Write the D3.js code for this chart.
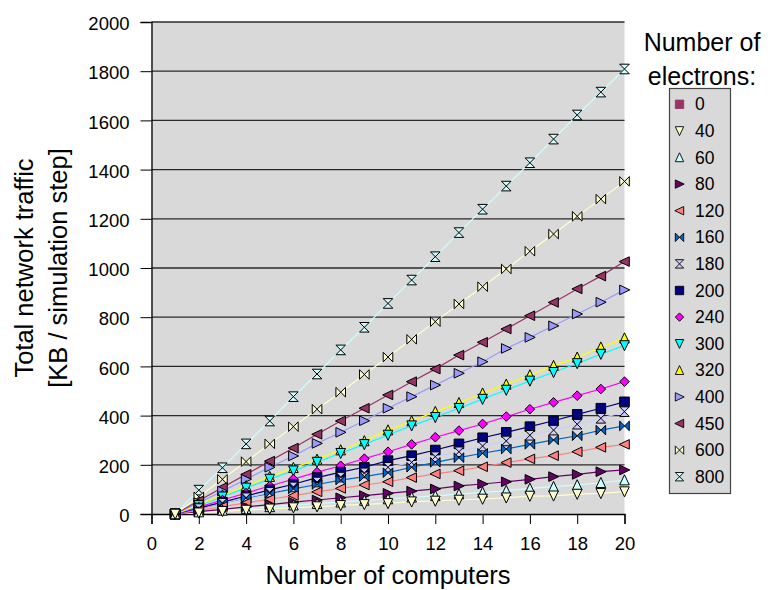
<!DOCTYPE html>
<html><head><meta charset="utf-8">
<script src="https://cdn.jsdelivr.net/npm/d3@7"></script>
<style>body{margin:0;background:#fff}svg{display:block;font-family:"Liberation Sans",Arial,sans-serif}</style>
</head><body><svg id="c" width="768" height="590"></svg>
<script>
const computers = [1,2,3,4,5,6,7,8,9,10,11,12,13,14,15,16,17,18,19,20];
const electrons = ["0","40","60","80","120","160","180","200","240","300","320","400","450","600","800"];
const s0   = [0];
const s40  = [0,5,11,16,21,26,30,35,39,43,50,53,57,61,66,73,74,81,84,91];
const s60  = [0,8,15,22,29,36,42,48,55,61,68,74,81,88,95,104,111,118,127,138];
const s80  = [0,10,19,29,38,48,57,66,75,84,93,102,114,122,131,141,152,161,172,179];
const s120 = [0,15,30,45,60,75,90,104,118,131,148,163,176,192,209,224,237,253,271,283];
const s160 = [0,22,44,65,84,102,120,138,152,168,190,210,229,247,264,283,301,318,341,358];
const s180 = [0,22,44,66,88,110,130,150,167,190,210,233,253,276,297,320,341,365,389,416];
const s200 = [0,24,48,73,98,121,148,170,190,217,237,260,285,310,332,355,379,405,430,456];
const s240 = [0,28,57,85,114,142,170,196,225,253,283,312,339,366,396,426,454,481,508,538];
const s300 = [0,35,70,106,142,176,211,247,283,321,359,393,430,467,504,541,576,612,650,685];
const s320 = [0,38,76,114,152,188,222,260,297,341,378,416,452,491,527,565,603,637,678,715];
const s400 = [0,46,93,141,190,236,287,332,379,430,477,524,572,619,673,718,765,813,861,911];
const s450 = [0,54,108,161,215,268,324,378,430,484,538,589,646,698,752,806,860,915,967,1026];
const s600 = [0,70,141,213,285,355,426,495,567,638,710,782,854,924,996,1068,1138,1210,1280,1352];
const s800 = [0,97,188,285,378,477,569,667,759,856,951,1046,1144,1239,1333,1428,1524,1622,1715,1809];
const seriesValues = [s0,s40,s60,s80,s120,s160,s180,s200,s240,s300,s320,s400,s450,s600,s800];
const colors = ["#993366","#ffffcc","#ccffff","#660066","#ff8080","#0066cc","#ccccff","#000080","#ff00ff","#00ffff","#ffff00","#9999ff","#993366","#ffffcc","#ccffff"];
const shapes = ["square","triDown","triUp","triRight","triLeft","bowtie","hourglass","square","diamond","triDown","triUp","triRight","triLeft","bowtie","hourglass"];
const xTicks = [0,2,4,6,8,10,12,14,16,18,20];
const yTicks = [0,200,400,600,800,1000,1200,1400,1600,1800,2000];

function shapePath(s, r){
  switch(s){
    case "square": return `M${-r},${-r}h${2*r}v${2*r}h${-2*r}Z`;
    case "triUp": return `M0,${-r-0.5}L${r},${r}L${-r},${r}Z`;
    case "triDown": return `M0,${r+0.5}L${r},${-r}L${-r},${-r}Z`;
    case "triRight": return `M${r+0.5},0L${-r},${-r}L${-r},${r}Z`;
    case "triLeft": return `M${-r-0.5},0L${r},${-r}L${r},${r}Z`;
    case "diamond": return `M0,${-r}L${r},0L0,${r}L${-r},0Z`;
    case "bowtie": return `M${-r},${-r}L${-r},${r}L${r},${-r}L${r},${r}Z`;
    case "hourglass": return `M${-r},${-r}L${r},${-r}L${-r},${r}L${r},${r}Z`;
  }
}

const svg = d3.select("#c");
const x = d3.scaleLinear().domain([0,20]).range([151.5,624.5]);
const y = d3.scaleLinear().domain([0,2000]).range([514,22]);

svg.append("rect").attr("x",151.5).attr("y",22).attr("width",473).attr("height",492).attr("fill","#d9d9d9");

// gridlines
svg.append("g").selectAll("line").data(yTicks.filter(d=>d>0)).join("line")
  .attr("x1",151.5).attr("x2",624.5).attr("y1",d=>y(d)).attr("y2",d=>y(d))
  .attr("stroke","#2a2a2a").attr("stroke-width",1.3);

// axes
const yAxis = d3.axisLeft(y).tickValues(yTicks).tickSize(11).tickPadding(11).tickFormat(d3.format("d"));
const gy = svg.append("g").attr("transform","translate(151.5,0)").call(yAxis);
gy.select(".domain").attr("stroke","#000").attr("stroke-width",1.3);
gy.selectAll(".tick line").attr("stroke","#000");
gy.selectAll("text").attr("font-size",18.5).attr("fill","#000").attr("font-family","Liberation Sans, Arial, sans-serif").attr("dy","0.42em");

const xAxis = d3.axisBottom(x).tickValues(xTicks).tickSize(10).tickPadding(13).tickFormat(d3.format("d"));
const gx = svg.append("g").attr("transform","translate(0,514)").call(xAxis);
gx.select(".domain").attr("stroke","#000").attr("stroke-width",1.3);
gx.selectAll(".tick line").attr("stroke","#000");
gx.selectAll("text").attr("font-size",18.5).attr("fill","#000").attr("font-family","Liberation Sans, Arial, sans-serif");

// lines
const line = d3.line().x((d,i)=>x(computers[i])).y(d=>y(d));
seriesValues.forEach((vals,k)=>{
  if(vals.length>1){
    svg.append("path").datum(vals).attr("d",line).attr("fill","none")
      .attr("stroke",colors[k]).attr("stroke-width",1.2);
  }
});
// markers (drawn in reverse series order, "0" first)
const order = [0,14,13,12,11,10,9,8,7,6,5,4,3,2,1];
order.forEach(k=>{
  const vals = seriesValues[k];
  svg.append("g").selectAll("path").data(vals).join("path")
    .attr("transform",(d,i)=>`translate(${x(computers[i])},${y(d)})`)
    .attr("d",shapePath(shapes[k],4.8))
    .attr("fill",colors[k]).attr("stroke","#000").attr("stroke-width",1);
});

// axis titles
svg.append("text").attr("x",388).attr("y",584).attr("text-anchor","middle")
  .attr("font-size",25.5).text("Number of computers");
const yt = svg.append("text").attr("transform","translate(0,268) rotate(-90)").attr("text-anchor","middle").attr("font-size",25.5);
yt.append("tspan").attr("x",0).attr("y",33).text("Total network traffic");
yt.append("tspan").attr("x",0).attr("y",67).text("[KB / simulation step]");

// legend
svg.append("text").attr("x",702).attr("y",51).attr("text-anchor","middle").attr("font-size",25).text("Number of");
svg.append("text").attr("x",702).attr("y",85).attr("text-anchor","middle").attr("font-size",25).text("electrons:");
svg.append("rect").attr("x",669.5).attr("y",88.5).attr("width",61).attr("height",405)
  .attr("fill","#d9d9d9").attr("stroke","#444").attr("stroke-width",1.2);
const lg = svg.append("g").selectAll("g").data(electrons).join("g")
  .attr("transform",(d,i)=>`translate(0,${104.3+i*26.6})`);
lg.append("path").attr("transform","translate(679.5,0)")
  .attr("d",(d,i)=>shapePath(shapes[i],4.2))
  .attr("fill",(d,i)=>colors[i]).attr("stroke",(d,i)=>i===0?colors[i]:"#000").attr("stroke-width",0.9);
lg.append("text").attr("x",695).attr("y",6).attr("font-size",17.5).text(d=>d);
</script></body></html>
